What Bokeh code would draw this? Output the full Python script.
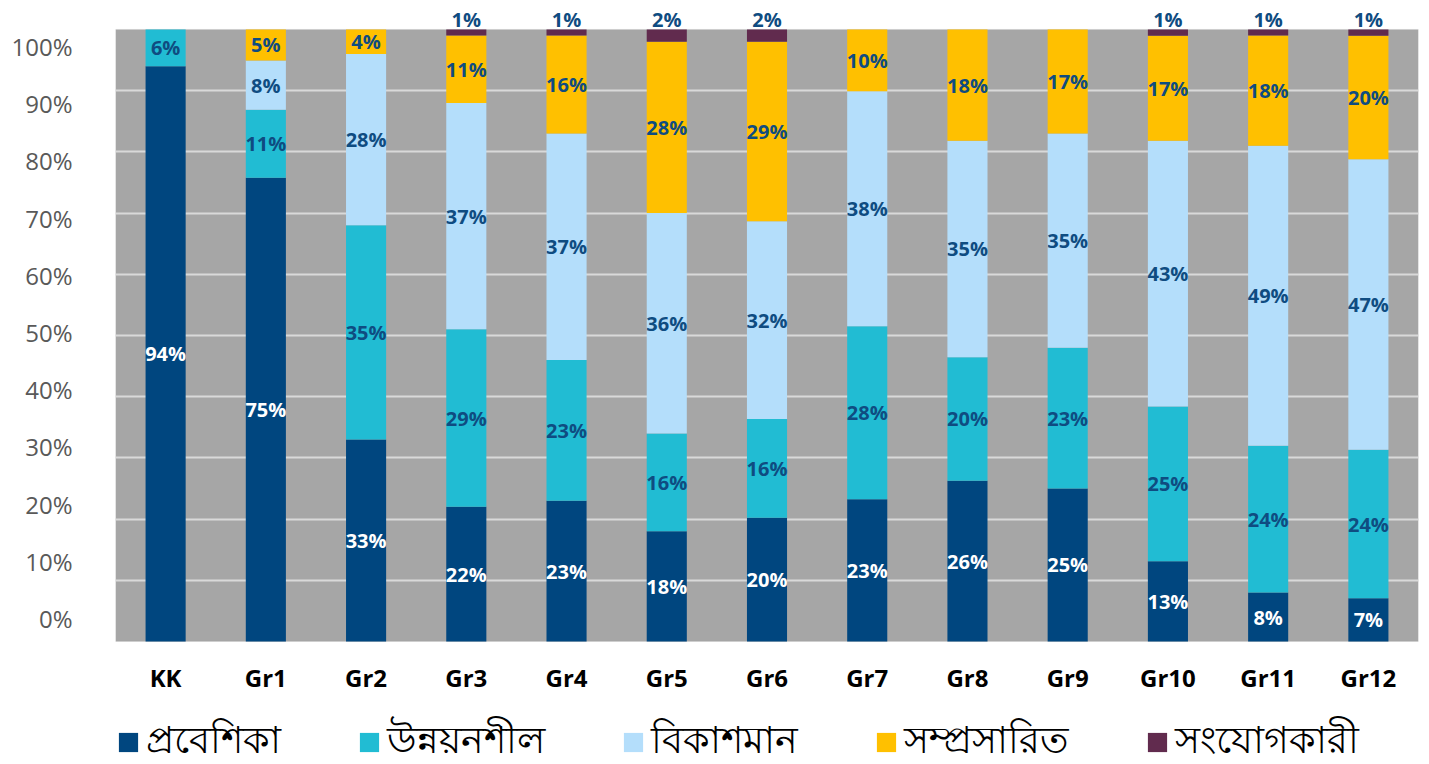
from bokeh.plotting import figure
from bokeh.models import (ColumnDataSource, FactorRange, Range1d, FixedTicker,
                          Grid, Legend, LegendItem, LabelSet, BoxAnnotation)
from bokeh.core.properties import value
from bokeh.embed import file_html
from bokeh.resources import INLINE

# ---------------- data ----------------
categories = ["KK", "Gr1", "Gr2", "Gr3", "Gr4", "Gr5", "Gr6", "Gr7", "Gr8", "Gr9", "Gr10", "Gr11", "Gr12"]
series_names = ["প্রবেশিকা", "উন্নয়নশীল", "বিকাশমান", "সম্প্রসারিত", "সংযোগকারী"]
probeshika   = [94, 75, 33, 22, 23, 18, 20, 23, 26, 25, 13, 8, 7]
unnayanshil  = [6, 11, 35, 29, 23, 16, 16, 28, 20, 23, 25, 24, 24]
bikashman    = [0, 8, 28, 37, 37, 36, 32, 38, 35, 35, 43, 49, 47]
samprasarita = [0, 5, 4, 11, 16, 28, 29, 10, 18, 17, 17, 18, 20]
sangyogkari  = [0, 0, 0, 1, 1, 2, 2, 0, 0, 0, 1, 1, 1]
y_ticks = [0, 10, 20, 30, 40, 50, 60, 70, 80, 90, 100]
y_tick_labels = ["0%", "10%", "20%", "30%", "40%", "50%", "60%", "70%", "80%", "90%", "100%"]

colors = ["#00467F", "#21BCD3", "#B4DEFB", "#FFC000", "#612B4E"]
label_dark = "#0F4C81"
FONT = "Open Sans"

series = [probeshika, unnayanshil, bikashman, samprasarita, sangyogkari]
keys = ["s0", "s1", "s2", "s3", "s4"]
totals = [sum(s[j] for s in series) for j in range(len(categories))]
data = {"cat": categories}
for k, s in zip(keys, series):
    data[k] = [v / t * 100 for v, t in zip(s, totals)]
src = ColumnDataSource(data)

# ---------------- figure ----------------
# frame spans y=5..764 px; bars: 100% at y=29, 0% at y=641
p = figure(x_range=FactorRange(*categories), y_range=Range1d(-25.524, 107.17),
           extra_y_ranges={"bars": Range1d(-20.098, 103.92)},
           width=1429, height=764, output_backend="svg", toolbar_location=None,
           x_axis_location=None,
           min_border_left=115, min_border_top=5, min_border_right=11, min_border_bottom=0)

p.background_fill_color = "white"
p.border_fill_color = "white"
p.outline_line_color = None
p.xgrid.visible = False
p.ygrid.visible = False

plot_area = BoxAnnotation(bottom=0, top=100, y_range_name="bars", fill_color="#A6A6A6",
                          fill_alpha=1, line_color="#C8C8C8", line_width=1, level="underlay")
p.add_layout(plot_area)
grid = Grid(dimension=1, ticker=FixedTicker(ticks=[10, 20, 30, 40, 50, 60, 70, 80, 90]),
            y_range_name="bars", grid_line_color="#D9D9D9", grid_line_width=2)
p.add_layout(grid)

# y axis (labels)
ya = p.yaxis[0]
ya.ticker = FixedTicker(ticks=y_ticks)
ya.major_label_overrides = {t: l for t, l in zip(y_ticks, y_tick_labels)}
ya.axis_line_color = None
ya.major_tick_line_color = None
ya.minor_tick_line_color = None
ya.major_tick_out = 0
ya.major_tick_in = 0
ya.minor_tick_out = 0
ya.minor_tick_in = 0
ya.major_label_standoff = 43
ya.major_label_text_font = FONT
ya.major_label_text_font_size = "24px"
ya.major_label_text_color = "#595959"

renderers = p.vbar_stack(keys, x="cat", width=0.4, color=colors, source=src,
                         y_range_name="bars", line_color=None)

# category labels under the bars
csrc = ColumnDataSource(dict(x=categories, y=[-5.9] * len(categories), t=categories))
p.text(x="x", y="y", text="t", source=csrc, y_range_name="bars",
       text_align="center", text_baseline="middle", text_font=value(FONT),
       text_font_size="24px", text_font_style="bold", text_color="black")

# ---------------- inner labels ----------------
lx, ly, lt, lc = [], [], [], []
for j, c in enumerate(categories):
    base = 0.0
    for i in range(4):
        v = data[keys[i]][j]
        if series[i][j] > 0:
            lx.append(c)
            ly.append(base + v / 2)
            lt.append(f"{series[i][j]}%")
            lc.append("white" if i == 0 else label_dark)
        base += v
lsrc = ColumnDataSource(dict(x=lx, y=ly, t=lt, c=lc))
p.text(x="x", y="y", text="t", text_color="c", source=lsrc, y_range_name="bars",
       text_align="center", text_baseline="middle", text_font=value(FONT),
       text_font_size="20px", text_font_style="bold")

# top labels (connector series) above the bars
tx = [c for c, v in zip(categories, sangyogkari) if v > 0]
tt = [f"{v}%" for v in sangyogkari if v > 0]
tsrc = ColumnDataSource(dict(x=tx, y=[100] * len(tx), t=tt))
p.add_layout(LabelSet(x="x", y="y", text="t", source=tsrc, y_range_name="bars",
                      text_align="center", text_baseline="alphabetic", y_offset=2,
                      text_font=value(FONT), text_font_size="20px", text_font_style="bold",
                      text_color=label_dark))

# ---------------- legend ----------------
items = [LegendItem(label=n, renderers=[r]) for n, r in zip(series_names, renderers)]
legend = Legend(items=items, orientation="horizontal", location=(1, -10),
                label_text_font="Noto Sans", label_text_font_size="38px",
                label_text_color="black", glyph_width=24, glyph_height=24,
                spacing=76, label_standoff=6, padding=0, margin=0,
                border_line_color=None, background_fill_alpha=0)
p.add_layout(legend, "center")

open("out.html", "w").write(file_html(p, INLINE))
